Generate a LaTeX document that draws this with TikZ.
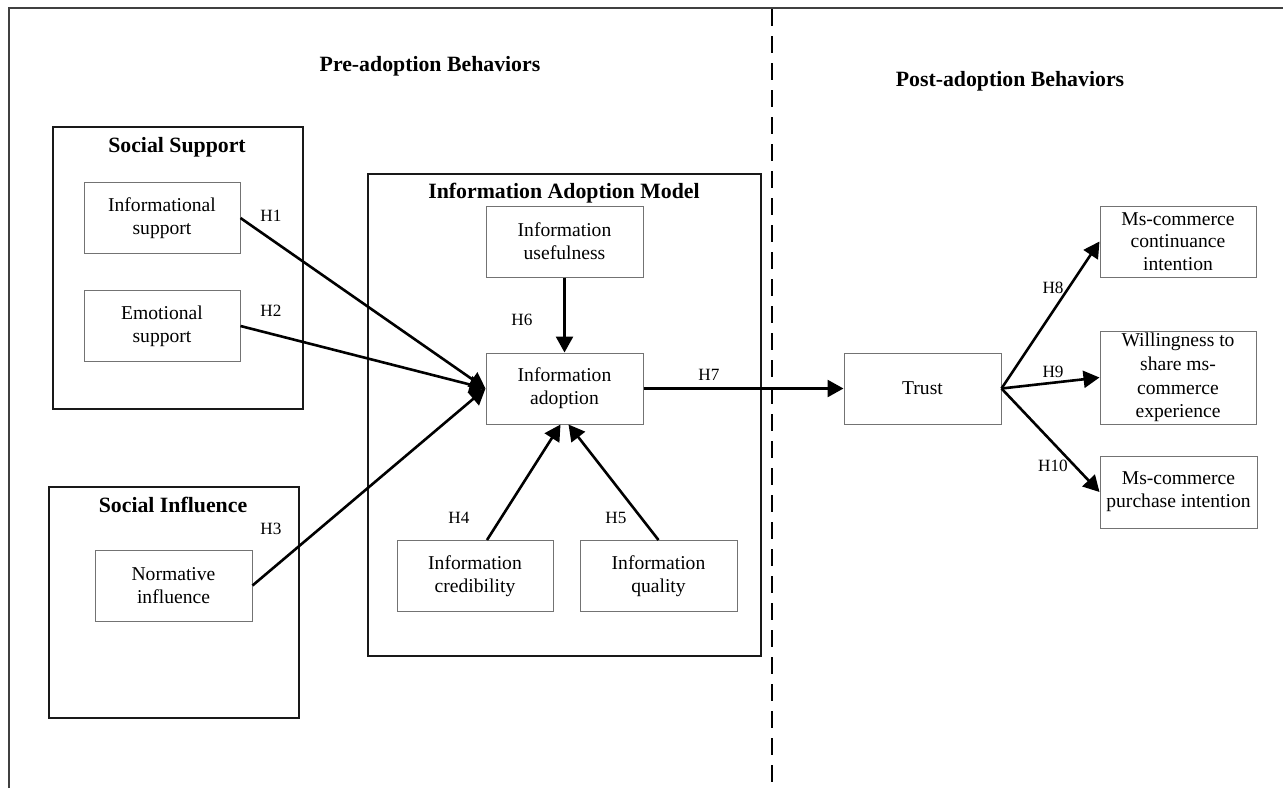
\documentclass[tikz,border=0pt]{standalone}
\usepackage{fontspec}
\setmainfont{Liberation Serif}
\usetikzlibrary{arrows.meta}

% Type sizes used in the model figure
\newcommand\cellfont{\fontsize{19.6}{22.8}\selectfont}
\newcommand\headfont{\fontsize{21.8}{25}\selectfont\bfseries}
\newcommand\hypfont{\fontsize{17.2}{20}\selectfont}

\begin{document}
\begin{tikzpicture}[x=1pt, y=-1pt,
  construct/.style={draw=black!55, line width=1pt, minimum width=156pt,
    minimum height=71pt, inner sep=0pt, align=center, font=\cellfont},
  group/.style={draw=black!90, line width=1.8pt, inner sep=0pt},
  heading/.style={font=\headfont, anchor=base, inner sep=0pt},
  hyp/.style={font=\hypfont, inner sep=0pt},
  link/.style={line width=2.6pt, -{Triangle[length=16pt,width=17pt]}},
  frame/.style={draw=black!75, line width=1.5pt},
  divider/.style={line width=2.5pt, dash pattern=on 17pt off 10pt},
]
\useasboundingbox (0,0) rectangle (1283,788);

% outer frame (top and left edges)
\draw[frame] (9,788) -- (9,8) -- (1283,8);

% divider between the two phases
\coordinate (divtop) at (772,9);
\coordinate (divbot) at (772,788);
\draw[divider] (divtop) -- (divbot);

% phase headings
\node[heading] (pre)  at (430,71) {Pre-adoption Behaviors};
\node[heading] (post) at (1010,86) {Post-adoption Behaviors};

% group frames
\node[group, minimum width=250pt, minimum height=282pt] (ssup) at (178,268) {};
\node[group, minimum width=250pt, minimum height=231pt] (sinf) at (174,602.5) {};
\node[group, minimum width=393pt, minimum height=482pt] (iam)  at (564.5,415) {};
\node[heading] (ssupt) at (177,152) {Social Support};
\node[heading] (sinft) at (173,512) {Social Influence};
\node[heading] (iamt)  at (564,198) {Information Adoption Model};

% constructs
\node[construct] (isup)   at (162,218)     {Informational\\support};
\node[construct] (esup)   at (162,326)     {Emotional\\support};
\node[construct, minimum width=157pt] (norm) at (173.5,585.5) {Normative\\influence};
\node[construct, minimum width=157pt] (useful) at (564.5,241.5) {Information\\usefulness};
\node[construct, minimum width=157pt] (adopt)  at (564.5,388.5) {Information\\adoption};
\node[construct] (cred)   at (475,576)     {Information\\credibility};
\node[construct, minimum width=157pt] (qual)   at (658.5,576)   {Information\\quality};
\node[construct, minimum width=157pt] (trust)  at (922.5,388.5) {Trust};
\node[construct] (cont)   at (1178,241.5)  {Ms-commerce\\continuance\\intention};
\node[construct, minimum height=93pt, font=\fontsize{19.6}{23.6}\selectfont] (will) at (1178,377.5) {Willingness to\\share ms-\\commerce\\experience};
\node[construct, minimum width=157pt, minimum height=72pt] (purch) at (1178.5,492) {Ms-commerce\\purchase intention};

% hypothesised paths
\draw[link] (isup.east) -- (adopt.west);
\draw[link] (esup.east) -- (adopt.west);
\draw[link] (norm.east) -- (adopt.west);
\draw[link] ([xshift=12pt]cred.north) -- ([xshift=-4pt]adopt.south);
\draw[link] (qual.north) -- ([xshift=4pt]adopt.south);
\draw[link] (useful.south) -- (adopt.north);
\draw[link] (adopt.east) -- (trust.west);
\draw[link] (trust.east) -- (cont.west);
\draw[link] (trust.east) -- (will.west);
\draw[link] (trust.east) -- (purch.west);

% path labels
\node[hyp] (h1)  at (271,216)  {H1};
\node[hyp] (h2)  at (271,311)  {H2};
\node[hyp] (h3)  at (271,529)  {H3};
\node[hyp] (h4)  at (459,518)  {H4};
\node[hyp] (h5)  at (616,518)  {H5};
\node[hyp] (h6)  at (522,320)  {H6};
\node[hyp] (h7)  at (709,375)  {H7};
\node[hyp] (h8)  at (1053,288) {H8};
\node[hyp] (h9)  at (1053,372) {H9};
\node[hyp] (h10) at (1053,466) {H10};
\end{tikzpicture}
\end{document}
